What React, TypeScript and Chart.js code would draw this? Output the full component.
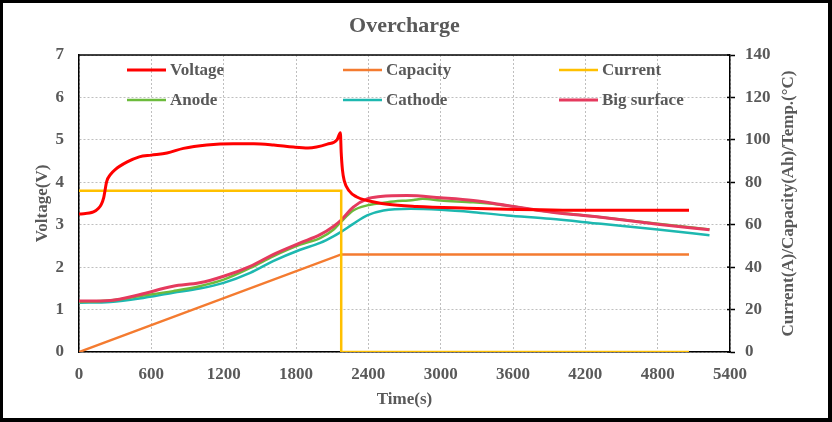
import React, { useEffect, useRef } from 'react';
import { Chart, registerables } from 'chart.js';

Chart.register(...registerables);

// ---------------- data ----------------
const xTickStep = 600;
const xMax = 5400;
const voltageMax = 7;
const rightMax = 140;

const voltageTime = [0, 120, 160, 185, 205, 230, 260, 300, 400, 500, 600, 730, 866, 1060, 1280, 1450, 1615, 1780, 1900, 2060, 2140, 2168, 2175, 2185, 2200, 2240, 2300, 2390, 2560, 2800, 3220, 3640, 4330, 5060];
const voltageValues = [3.25, 3.3, 3.38, 3.48, 3.64, 4.02, 4.18, 4.3, 4.48, 4.6, 4.64, 4.69, 4.8, 4.88, 4.91, 4.91, 4.88, 4.83, 4.81, 4.9, 5.0, 5.17, 4.7, 4.3, 4.04, 3.8, 3.66, 3.57, 3.48, 3.43, 3.39, 3.36, 3.34, 3.34];

const capacityTime = [0, 2175, 5060];
const capacityValues = [0, 46, 46];

const currentTime = [0, 2175, 2175, 5060];
const currentValues = [76, 76, 0, 0];

const anodeTime = [0, 260, 500, 780, 1000, 1200, 1420, 1610, 1835, 2000, 2110, 2170, 2275, 2390, 2560, 2775, 2850, 3000, 3270, 3550, 3770, 4000, 4330, 4800, 5230];
const anodeValues = [23.6, 24.3, 26.3, 28.7, 31.0, 34.1, 39.6, 45.1, 50.6, 53.7, 57.6, 61.2, 66.7, 69.1, 70.6, 71.7, 72.2, 71.4, 70.6, 69.1, 67.0, 65.5, 63.5, 60.4, 57.8];

const cathodeTime = [0, 260, 500, 780, 1000, 1200, 1420, 1610, 1835, 2000, 2110, 2170, 2275, 2390, 2525, 2750, 3000, 3270, 3550, 3910, 4330, 4800, 5230];
const cathodeValues = [23.2, 23.6, 25.2, 27.9, 29.9, 32.6, 37.3, 42.8, 48.2, 51.4, 54.5, 56.5, 60.4, 64.4, 66.7, 67.5, 67.0, 65.9, 64.4, 62.8, 60.4, 57.8, 55.0];

const surfaceTime = [0, 260, 500, 780, 1000, 1200, 1420, 1610, 1835, 2000, 2110, 2170, 2275, 2390, 2500, 2720, 3000, 3270, 3550, 3910, 4330, 4800, 5230];
const surfaceValues = [24.0, 24.3, 27.0, 31.0, 32.6, 35.7, 40.4, 45.9, 51.4, 55.3, 59.2, 62.0, 68.3, 72.2, 73.3, 73.8, 72.7, 71.4, 69.1, 66.0, 63.5, 60.2, 57.6];

const seriesLabels = ['Voltage', 'Capacity', 'Current', 'Anode', 'Cathode', 'Big surface'];
const seriesColors = ['#FF0000', '#F47B30', '#FFC000', '#6CBB3C', '#1DB8B0', '#E53A5E'];

const titleText = 'Overcharge';
const xTitle = 'Time(s)';
const yTitle = 'Voltage(V)';
const y1Title = 'Current(A)/Capacity(Ah)/Temp.(\u00B0C)';

// ---------------- styling ----------------
const FONT = '"Liberation Serif", "Times New Roman", serif';
const TEXT = '#595959';
const GRID = '#BFBFBF';

const toPts = (xs: number[], ys: number[]) => xs.map((x, i) => ({ x, y: ys[i] }));

export default function App() {
  const ref = useRef<HTMLCanvasElement>(null);

  useEffect(() => {
    if (!ref.current) return;

    const framePlugin = {
      id: 'frame',
      beforeDatasetsDraw(chart: any) {
        const { ctx, chartArea: a } = chart;
        ctx.save();
        ctx.strokeStyle = '#000';
        ctx.lineWidth = 1.5;
        ctx.beginPath();
        ctx.moveTo(a.left, a.top);
        ctx.lineTo(a.right, a.top);
        ctx.stroke();
        // right-axis tick marks crossing slightly into the plot
        const y1 = chart.scales.y1;
        for (let v = 0; v <= rightMax; v += 20) {
          const py = y1.getPixelForValue(v);
          ctx.beginPath();
          ctx.moveTo(a.right - 3, py);
          ctx.lineTo(a.right, py);
          ctx.stroke();
        }
        ctx.restore();
      },
    };

    const legendPlugin = {
      id: 'innerLegend',
      afterDatasetsDraw(chart: any) {
        const { ctx, chartArea: a } = chart;
        const colX = [48, 264, 480];
        const rowY = [15, 45];
        ctx.save();
        ctx.font = `bold 17px ${FONT}`;
        ctx.textBaseline = 'middle';
        ctx.textAlign = 'left';
        chart.data.datasets.forEach((ds: any, i: number) => {
          const col = i % 3;
          const row = Math.floor(i / 3);
          const x = a.left + colX[col];
          const y = a.top + rowY[row];
          ctx.strokeStyle = ds.borderColor;
          ctx.lineWidth = ds.borderWidth;
          ctx.beginPath();
          ctx.moveTo(x, y);
          ctx.lineTo(x + 39, y);
          ctx.stroke();
          ctx.fillStyle = TEXT;
          ctx.fillText(ds.label, x + 43, y + 1);
        });
        ctx.restore();
      },
    };

    const rightTitlePlugin = {
      id: 'rightTitle',
      afterDraw(chart: any) {
        const { ctx, chartArea: a } = chart;
        ctx.save();
        ctx.translate(789, (a.top + a.bottom) / 2);
        ctx.rotate(-Math.PI / 2);
        ctx.font = `bold 17px ${FONT}`;
        ctx.fillStyle = TEXT;
        ctx.textAlign = 'center';
        ctx.textBaseline = 'middle';
        ctx.fillText(y1Title, 0, 0);
        ctx.restore();
      },
    };

    const tickFont = { family: FONT, size: 17, weight: 'bold' as const };
    const plain = (v: any) => String(v);

    const chart = new Chart(ref.current, {
      type: 'line',
      data: {
        datasets: [
          { label: seriesLabels[0], data: toPts(voltageTime, voltageValues), yAxisID: 'y', borderColor: seriesColors[0], borderWidth: 3, cubicInterpolationMode: 'monotone', order: 1 },
          { label: seriesLabels[1], data: toPts(capacityTime, capacityValues), yAxisID: 'y1', borderColor: seriesColors[1], borderWidth: 2.5, tension: 0, order: 3 },
          { label: seriesLabels[2], data: toPts(currentTime, currentValues), yAxisID: 'y1', borderColor: seriesColors[2], borderWidth: 2.5, tension: 0, order: 2 },
          { label: seriesLabels[3], data: toPts(anodeTime, anodeValues), yAxisID: 'y1', borderColor: seriesColors[3], borderWidth: 2.5, cubicInterpolationMode: 'monotone', order: 5 },
          { label: seriesLabels[4], data: toPts(cathodeTime, cathodeValues), yAxisID: 'y1', borderColor: seriesColors[4], borderWidth: 2.5, cubicInterpolationMode: 'monotone', order: 6 },
          { label: seriesLabels[5], data: toPts(surfaceTime, surfaceValues), yAxisID: 'y1', borderColor: seriesColors[5], borderWidth: 3, cubicInterpolationMode: 'monotone', order: 4 },
        ] as any,
      },
      options: {
        animation: false,
        responsive: true,
        maintainAspectRatio: false,
        layout: { padding: 0 },
        elements: { point: { radius: 0, hoverRadius: 0 }, line: { fill: false } },
        plugins: {
          legend: { display: false },
          tooltip: { enabled: false },
          title: {
            display: true,
            text: titleText,
            fullSize: false,
            color: TEXT,
            font: { family: FONT, size: 22, weight: 'bold' },
            padding: { top: 13, bottom: 15.6 },
          },
        },
        scales: {
          x: {
            type: 'linear',
            min: 0,
            max: xMax,
            ticks: { stepSize: xTickStep, color: TEXT, font: tickFont, padding: 12, maxRotation: 0, autoSkip: false, callback: plain },
            grid: { color: GRID, lineWidth: 1, drawTicks: false },
            border: { color: '#000', width: 1.5, dash: [2, 2] },
            title: { display: true, text: xTitle, color: TEXT, font: tickFont, padding: { top: 0, bottom: 12 } },
            afterFit: (s: any) => { s.height = 70; },
          },
          y: {
            position: 'left',
            min: 0,
            max: voltageMax,
            ticks: { stepSize: 1, color: TEXT, font: tickFont, padding: 15, callback: plain },
            grid: { color: GRID, lineWidth: 1, drawTicks: false },
            border: { color: '#000', width: 1.5, dash: [2, 2] },
            title: { display: true, text: yTitle, color: TEXT, font: tickFont, padding: { top: 32, bottom: 0 } },
            afterFit: (s: any) => { s.width = 79; },
          },
          y1: {
            position: 'right',
            min: 0,
            max: rightMax,
            ticks: { stepSize: 20, color: TEXT, font: tickFont, padding: 10, callback: plain },
            grid: { drawOnChartArea: false, drawTicks: true, tickLength: 5, tickColor: '#000', tickWidth: 1.5 },
            border: { color: '#000', width: 1.5 },
            afterFit: (s: any) => { s.width = 102; },
          },
        },
      } as any,
      plugins: [framePlugin, legendPlugin, rightTitlePlugin],
    });

    return () => chart.destroy();
  }, []);

  return (
    <div style={{ position: 'absolute', left: 0, top: 0, width: 832, height: 422, background: '#fff' }}>
      <canvas ref={ref} />
      <div
        style={{
          position: 'absolute',
          left: 0,
          top: 0,
          width: 832,
          height: 422,
          boxSizing: 'border-box',
          borderStyle: 'solid',
          borderColor: '#000',
          borderWidth: '3px 4px 4px 3px',
          pointerEvents: 'none',
        }}
      />
    </div>
  );
}
